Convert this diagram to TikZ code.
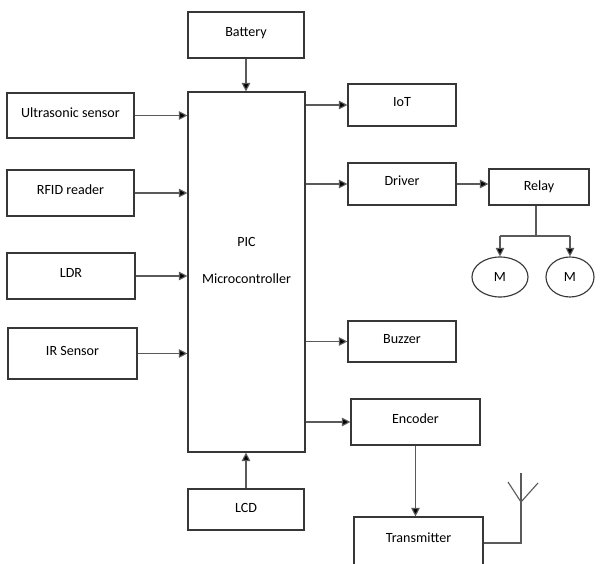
\documentclass[tikz,border=0pt]{standalone}
\usepackage{fontspec}
\setmainfont{Carlito}
\usetikzlibrary{arrows.meta,shapes.geometric}
\definecolor{boxline}{RGB}{55,55,55}
\definecolor{wireline}{RGB}{90,90,90}
\tikzset{
  blockbox/.style={draw=boxline, line width=0.8pt, inner sep=0pt, text height=7pt, text depth=0.17cm},
  motor/.style={draw=boxline, line width=0.8pt, ellipse, inner sep=0pt},
  feed/.style={draw=wireline, line width=0.8pt, -{Triangle[length=6pt,width=6pt,fill=black]}},
  wire/.style={draw=wireline, line width=0.8pt},
}

\begin{document}
\begin{tikzpicture}[x=0.025cm, y=-0.025cm, font=\fontsize{10}{12}\selectfont]
            \useasboundingbox (0,0) rectangle (601,564);
            % inputs
            \node[blockbox, minimum width=3.175cm, minimum height=1.125cm] (ultra) at ( 70.5,115.5) {Ultrasonic sensor};
            \node[blockbox, minimum width=3.175cm, minimum height=1.150cm] (rfid)  at ( 70.5,193.0) {RFID reader};
            \node[blockbox, minimum width=3.200cm, minimum height=1.150cm] (ldr)   at ( 71.0,276.0) {LDR};
            \node[blockbox, minimum width=3.225cm, minimum height=1.275cm] (ir)    at ( 72.5,353.5) {IR Sensor};
            % centre column
            \node[blockbox, minimum width=2.900cm, minimum height=1.150cm] (batt)  at (246.0, 35.0) {Battery};
            \node[blockbox, minimum width=2.925cm, minimum height=9.000cm] (pic)   at (246.5,272.0) {};
            \node[align=center]                                            (pictxt) at (246.5,260.5) {PIC\\[15pt]Microcontroller};
            \node[blockbox, minimum width=2.900cm, minimum height=1.025cm,
                  text depth=2.3pt]                                        (lcd)   at (246.0,509.5) {LCD};
            % outputs
            \node[blockbox, minimum width=2.700cm, minimum height=1.050cm] (iot)   at (402.0,105.0) {IoT};
            \node[blockbox, minimum width=2.700cm, minimum height=1.050cm] (drv)   at (402.0,184.0) {Driver};
            \node[blockbox, minimum width=2.500cm, minimum height=0.900cm,
                  text depth=2.3pt]                                        (relay) at (539.0,187.0) {Relay};
            \node[blockbox, minimum width=2.700cm, minimum height=1.025cm] (buzz)  at (402.0,341.5) {Buzzer};
            \node[blockbox, minimum width=3.225cm, minimum height=1.150cm] (enc)   at (415.5,422.0) {Encoder};
            \node[blockbox, minimum width=3.225cm, minimum height=1.300cm,
                  text depth=0.25cm]                                       (tx)    at (418.5,543.0) {Transmitter};
            \node[motor, minimum width=1.40cm, minimum height=1.00cm]      (m1)    at (500.0,277.0) {M};
            \node[motor, minimum width=1.20cm, minimum height=1.00cm]      (m2)    at (570.0,277.0) {M};
            % helper points
            \coordinate (fork)    at (536,236);
            \coordinate (anttop)  at (521,473);
            \coordinate (antfork) at (521,502);
            \coordinate (antl)    at (508,482);
            \coordinate (antr)    at (538,483);
            % connectors
            \draw[feed] (ultra.east) -- (ultra.east -| pic.west);
            \draw[feed] (rfid.east)  -- (rfid.east -| pic.west);
            \draw[feed] (ldr.east)   -- (ldr.east -| pic.west);
            \draw[feed] (ir.east)    -- (ir.east -| pic.west);
            \draw[feed] (batt.south) -- (batt.south |- pic.north);
            \draw[feed] (lcd.north)  -- (lcd.north |- pic.south);
            \draw[feed] (iot.west -| pic.east)  -- (iot.west);
            \draw[feed] (drv.west -| pic.east)  -- (drv.west);
            \draw[feed] (buzz.west -| pic.east) -- (buzz.west);
            \draw[feed] (enc.west -| pic.east)  -- (enc.west);
            \draw[feed] (drv.east)   -- (drv.east -| relay.west);
            \draw[wire] (fork |- relay.south) -- (fork);
            \draw[wire] (m1 |- fork) -- (m2 |- fork);
            \draw[feed] (m1 |- fork) -- (m1.north);
            \draw[feed] (m2 |- fork) -- (m2.north);
            \draw[feed] (enc.south)  -- (enc.south |- tx.north);
            \draw[wire] (tx.east) -| (anttop);
            \draw[wire] (antfork) -- (antl);
            \draw[wire] (antfork) -- (antr);
        \end{tikzpicture}
\end{document}
